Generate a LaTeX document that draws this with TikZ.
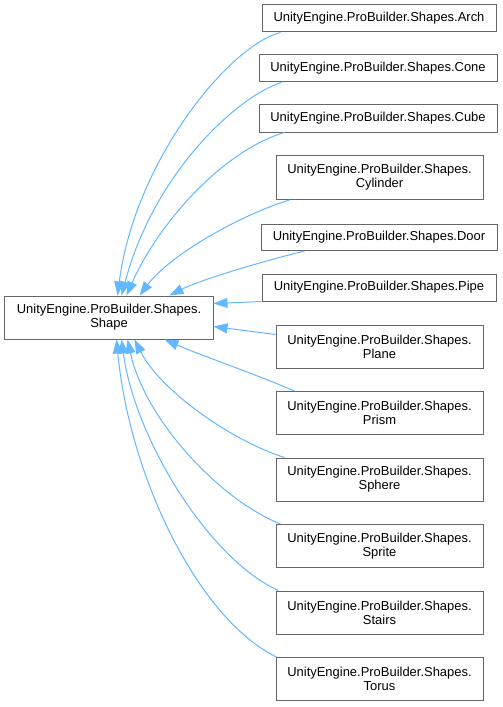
\documentclass[tikz,border=0pt]{standalone}
\usepackage{fontspec}
\setmainfont{Liberation Sans}
\usetikzlibrary{arrows.meta,calc}
\definecolor{edgeblue}{HTML}{63B8FF}
\definecolor{boxgray}{HTML}{666666}
\begin{document}
\begin{tikzpicture}[x=1bp,y=-1bp,
  box/.style={draw=boxgray,line width=1bp,fill=white,inner sep=0pt,align=center,
    font=\fontsize{13}{14}\selectfont},
  onebox/.style={box,minimum height=27bp},
  twobox/.style={box,minimum width=207bp,minimum height=43bp},
  inh/.style={draw=edgeblue,line width=1bp,{Triangle[length=14bp,width=10bp,fill=edgeblue]}-}]
\fill[white] (0,0) rectangle (503,707);
\useasboundingbox (0,0) rectangle (503,707);

\node[box,minimum width=208bp,minimum height=43bp] (base) at (109,317.5) {UnityEngine.ProBuilder.Shapes.\\Shape};

\node[onebox,minimum width=234bp] (arch) at (379,18.5) {UnityEngine.ProBuilder.Shapes.Arch};
\node[onebox,minimum width=238bp] (cone) at (378,68.5) {UnityEngine.ProBuilder.Shapes.Cone};
\node[onebox,minimum width=238bp] (cube) at (378,118.5) {UnityEngine.ProBuilder.Shapes.Cube};
\node[twobox,minimum height=44bp] (cyl) at (379.5,177.5) {UnityEngine.ProBuilder.Shapes.\\Cylinder};
\node[onebox,minimum width=236bp,minimum height=26bp] (door) at (379,237.5) {UnityEngine.ProBuilder.Shapes.Door};
\node[onebox,minimum width=234bp] (pipe) at (379,287.5) {UnityEngine.ProBuilder.Shapes.Pipe};
\node[twobox] (plane) at (379.5,346.5) {UnityEngine.ProBuilder.Shapes.\\Plane};
\node[twobox] (prism) at (379.5,413) {UnityEngine.ProBuilder.Shapes.\\Prism};
\node[twobox] (sphere) at (379.5,479.5) {UnityEngine.ProBuilder.Shapes.\\Sphere};
\node[twobox] (sprite) at (379.5,546) {UnityEngine.ProBuilder.Shapes.\\Sprite};
\node[twobox] (stairs) at (379.5,612.5) {UnityEngine.ProBuilder.Shapes.\\Stairs};
\node[twobox] (torus) at (379.5,679) {UnityEngine.ProBuilder.Shapes.\\Torus};

\path[inh] ($(base.north west)+(113,0)$) .. controls (135,160) and (230,45) .. ($(arch.south west)+(19,0)$);
\path[inh] ($(base.north west)+(117,0)$) .. controls (155,170) and (240,95) .. ($(cone.south west)+(23,0)$);
\path[inh] ($(base.north west)+(122,0)$) .. controls (160,220) and (225,150) .. ($(cube.south west)+(26,0)$);
\path[inh] ($(base.north west)+(135,0)$) .. controls (170,255) and (240,215) .. ($(cyl.south west)+(14,0)$);
\path[inh] ($(base.north west)+(165,0)$) .. controls (200,280) and (260,262) .. ($(door.south west)+(44,0)$);
\path[inh] ($(base.north east)+(0,8)$) -- (pipe.south west);
\path[inh] ($(base.north east)+(0,31)$) -- ($(plane.north west)+(0,10)$);
\path[inh] ($(base.south west)+(160,0)$) .. controls (200,355) and (250,372) .. ($(prism.north west)+(19,0)$);
\path[inh] ($(base.south west)+(130,0)$) .. controls (160,390) and (230,440) .. ($(sphere.north west)+(9,0)$);
\path[inh] ($(base.south west)+(123,0)$) .. controls (145,420) and (220,500) .. ($(sprite.north west)+(5,0)$);
\path[inh] ($(base.south west)+(117,0)$) .. controls (135,440) and (210,560) .. ($(stairs.north west)+(3,0)$);
\path[inh] ($(base.south west)+(112,0)$) .. controls (130,480) and (200,620) .. ($(torus.north west)+(1,0)$);
\end{tikzpicture}
\end{document}
